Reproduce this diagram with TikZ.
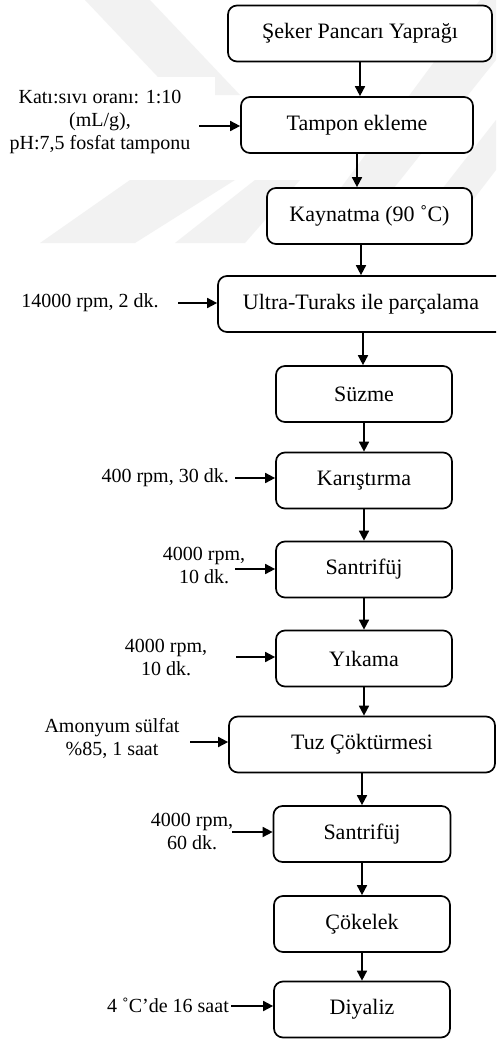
\documentclass[tikz,border=0pt]{standalone}
\usepackage{fontspec}
\setmainfont{Liberation Serif}
\usetikzlibrary{arrows.meta}
\begin{document}
\begin{tikzpicture}[x=1pt,y=-1pt,
  box/.style={draw, line width=1.7pt, rounded corners=9pt, minimum height=56pt,
    inner sep=0pt, fill=white, font=\fontsize{22}{26}\selectfont},
  lbl/.style={align=center, inner sep=0pt, font=\fontsize{20}{23}\selectfont},
  arr/.style={line width=1.7pt, -{Triangle[length=10pt,width=10pt]}},
  wm/.style={fill=black!5, draw=none}]
\clip (0,0) rectangle (496,1039);
\fill[white] (0,0) rectangle (496,1039);
% faint watermark
\fill[wm] (85,0) -- (150,0) -- (240,95) -- (175,95) -- cycle;
\fill[wm] (130,180) -- (235,180) -- (135,243) -- (40,243) -- cycle;
\fill[wm] (255,180) -- (300,180) -- (245,243) -- (175,243) -- cycle;
\fill[wm] (300,243) -- (350,243) -- (496,60) -- (496,0) -- (480,0) -- cycle;
\fill[wm] (400,243) -- (440,243) -- (496,170) -- (496,120) -- cycle;
\fill[white] (0,77) rectangle (215,180);

% main boxes
\node[box, minimum width=264pt] (b1) at (360,33.5) {Şeker Pancarı Yaprağı};
\node[box, minimum width=232pt] (b2) at (357,125) {Tampon ekleme};
\node[box, minimum width=205pt] (b3) at (369.5,216) {Kaynatma (90 ˚C)};
\node[box, minimum width=290pt] (b4) at (363,304) {\hspace*{-2pt}Ultra-Turaks ile parçalama\hspace*{2pt}};
\node[box, minimum width=176pt] (b5) at (364,394) {Süzme};
\node[box, minimum width=176pt] (b6) at (364,480.5) {Karıştırma};
\node[box, minimum width=176pt] (b7) at (364,569.5) {Santrifüj};
\node[box, minimum width=176pt] (b8) at (364,658.5) {Yıkama};
\node[box, minimum width=266pt] (b9) at (362,744.5) {Tuz Çöktürmesi};
\node[box, minimum width=177pt] (b10) at (362,834) {Santrifüj};
\node[box, minimum width=176pt] (b11) at (362,924) {Çökelek};
\node[box, minimum width=176pt] (b12) at (362,1009.5) {Diyaliz};

% vertical connectors
\draw[arr] (b1.south) -- (b1.south |- b2.north);
\draw[arr] (b2.south) -- (b2.south |- b3.north);
\draw[arr] (b3.south -| 361,0) -- (361,0 |- b4.north);
\draw[arr] (b4.south) -- (b4.south |- b5.north);
\draw[arr] (b5.south) -- (b5.south |- b6.north);
\draw[arr] (b6.south) -- (b6.south |- b7.north);
\draw[arr] (b7.south) -- (b7.south |- b8.north);
\draw[arr] (b8.south) -- (b8.south |- b9.north);
\draw[arr] (b9.south) -- (b9.south |- b10.north);
\draw[arr] (b10.south) -- (b10.south |- b11.north);
\draw[arr] (b11.south) -- (b11.south |- b12.north);

% side labels
\node[lbl] (l2) at (100,121.5) {Katı:sıvı oranı: 1:10\\(mL/g),\\pH:7,5 fosfat tamponu};
\node[lbl] (l4) at (90,303) {14000 rpm, 2 dk.};
\node[lbl, anchor=east] (l6) at (229,478) {400 rpm, 30 dk.};
\node[lbl] (l7) at (204,565) {4000 rpm,\\10 dk.};
\node[lbl] (l8) at (166,657) {4000 rpm,\\10 dk.};
\node[lbl] (l9) at (112,738.5) {Amonyum sülfat\\\%85, 1 saat};
\node[lbl] (l10) at (192,831) {4000 rpm,\\60 dk.};
\node[lbl, anchor=east] (l12) at (229,1005) {4 ˚C’de 16 saat};

% side connectors
\coordinate (a2) at (199,126);
\coordinate (a4) at (178,303);
\coordinate (a6) at (235,478);
\coordinate (a7) at (235,569);
\coordinate (a8) at (236,657);
\coordinate (a9) at (190,742);
\coordinate (a10) at (232,832);
\coordinate (a12) at (231,1006);
\draw[arr] (a2) -- (a2 -| b2.west);
\draw[arr] (a4) -- (a4 -| b4.west);
\draw[arr] (a6) -- (a6 -| b6.west);
\draw[arr] (a7) -- (a7 -| b7.west);
\draw[arr] (a8) -- (a8 -| b8.west);
\draw[arr] (a9) -- (a9 -| b9.west);
\draw[arr] (a10) -- (a10 -| b10.west);
\draw[arr] (a12) -- (a12 -| b12.west);
\end{tikzpicture}
\end{document}
